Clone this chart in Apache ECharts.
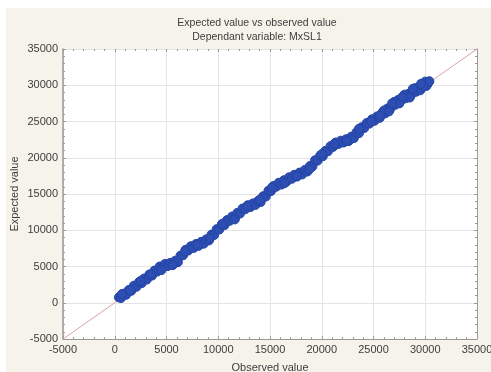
<!DOCTYPE html>
<html><head><meta charset="utf-8">
<script src="https://cdn.jsdelivr.net/npm/echarts@6/dist/echarts.min.js"></script>
<style>
html,body{margin:0;padding:0;background:#ffffff;}
#bg{position:absolute;left:6px;top:8px;width:485px;height:364px;background:#f6f3ea;}
#chart{position:absolute;left:0;top:0;width:491px;height:372px;}
</style></head>
<body><div id="bg"></div><div id="chart"></div>
<script>
const titleLines = ["Expected value vs observed value", "Dependant variable: MxSL1"];
const xAxisName = "Observed value";
const yAxisName = "Expected value";
const axisMin = -5000, axisMax = 35000, axisStep = 5000;
const refLine = [[-5000, -5000], [35000, 35000]];
const observed = [400,600,850,1100,1350,1600,1850,2100,2350,2600,2850,3100,3350,3600,3850,4100,4350,4600,4850,5100,5350,5600,5850,6100,6350,6600,6850,7100,7350,7600,7850,8100,8350,8600,8850,9100,9350,9600,9850,10100,10350,10600,10850,11100,11350,11600,11850,12100,12350,12600,12850,13100,13350,13600,13850,14100,14350,14600,14850,15100,15350,15600,15850,16100,16350,16600,16850,17100,17350,17600,17850,18100,18350,18600,18850,19100,19350,19600,19850,20100,20350,20600,20850,21100,21350,21600,21850,22100,22350,22600,22850,23100,23350,23600,23850,24100,24350,24600,24850,25100,25350,25600,25850,26100,26350,26600,26850,27100,27350,27600,27850,28100,28350,28600,28850,29100,29350,29600,29850,30100,30300,26000,26500,27000,27500,28000,28500,29000,29500,30000,30200,29800,30400,700,1500,2500,3500,4500,5600,6800,8000,9200,10400,11600,12800,14000,15200,16400,17600,18800,20000,21200,22400,23600,24800,25600,26800,27800,28800,29600];
const expected = [750,650,1250,1100,1750,1650,2350,2200,2850,2700,3350,3200,3900,3750,4450,4300,5000,4850,5350,5050,5500,5250,5800,5600,6500,6550,7300,7200,7800,7550,8100,7850,8400,8150,8750,8600,9400,9350,10150,10100,10800,10700,11400,11300,11900,11700,12400,12300,13000,12900,13450,13200,13700,13500,14050,13900,14700,14650,15450,15400,16100,16000,16550,16300,16900,16700,17300,17100,17650,17400,17950,17700,18300,18100,18850,18800,19650,19600,20300,20200,20950,20900,21600,21500,22100,21900,22350,22100,22550,22300,22900,22700,23500,23400,24200,24100,24800,24700,25300,25100,25700,25500,26200,26100,26800,26700,27400,27300,27950,27800,28400,28200,28800,28600,29250,29100,29700,29500,30100,29900,30400,26500,26400,27700,27500,28700,28300,29600,29300,30500,30100,29800,30550,1200,1700,3000,3900,4500,5200,7100,7900,8900,10900,11500,13300,14200,15900,16500,17500,18400,20500,21900,22300,24000,25000,25800,27500,28400,29500,30200];

const points = observed.map((o, i) => [o, expected[i]]);
const gridCol = '#e4e4e4', axisCol = '#9a9a9a', textCol = '#3d3d3d';
const fontFam = '"Liberation Sans", Arial, sans-serif';
const plain = v => String(v);

function mkX(pos, showLine, showLabel) {
  return {
    type: 'value', position: pos, min: axisMin, max: axisMax, interval: axisStep,
    axisLine: {show: showLine, onZero: false, lineStyle: {color: axisCol, width: 1}},
    axisTick: {show: true, inside: true, length: 3, lineStyle: {color: axisCol}},
    minorTick: {show: true, splitNumber: 5, length: 2, lineStyle: {color: axisCol}},
    splitLine: {show: showLabel, lineStyle: {color: gridCol, width: 1}},
    axisLabel: {show: showLabel, color: textCol, fontSize: 11, fontFamily: fontFam, margin: 5, formatter: plain},
    name: showLabel ? xAxisName : '', nameLocation: 'middle', nameGap: 23, nameMoveOverlap: false,
    nameTextStyle: {color: textCol, fontSize: 11, fontFamily: fontFam}
  };
}
function mkY(pos, showLine, showLabel) {
  return {
    type: 'value', position: pos, min: axisMin, max: axisMax, interval: axisStep,
    axisLine: {show: showLine, onZero: false, lineStyle: {color: axisCol, width: showLabel ? 1.5 : 1}},
    axisTick: {show: true, inside: true, length: 3, lineStyle: {color: axisCol}},
    minorTick: {show: true, splitNumber: 5, length: 2, lineStyle: {color: axisCol}},
    splitLine: {show: showLabel, lineStyle: {color: gridCol, width: 1}},
    axisLabel: {show: showLabel, color: textCol, fontSize: 11, fontFamily: fontFam, margin: 5, formatter: plain},
    name: showLabel ? yAxisName : '', nameLocation: 'middle', nameGap: 43, nameRotate: 90, nameMoveOverlap: false,
    nameTextStyle: {color: textCol, fontSize: 11, fontFamily: fontFam}
  };
}

const chart = echarts.init(document.getElementById('chart'), null, {renderer: 'canvas'});
chart.setOption({
  backgroundColor: 'transparent',
  animation: false,
  title: {
    text: titleLines.join('\n'), left: 252, top: 11, textAlign: 'center',
    textStyle: {color: textCol, fontSize: 10.5, fontWeight: 'normal', fontFamily: fontFam, lineHeight: 14}
  },
  grid: {left: 63, right: 14, top: 49, bottom: 33, show: true, backgroundColor: '#ffffff', borderWidth: 0,
         containLabel: false, outerBoundsMode: 'none'},
  xAxis: [mkX('bottom', true, true), mkX('top', false, false)],
  yAxis: [mkY('left', true, true), mkY('right', true, false)],
  series: [
    {type: 'line', data: refLine, symbol: 'none', lineStyle: {color: '#d9a3a3', width: 1}, z: 1},
    {type: 'scatter', data: points, symbol: 'circle', symbolSize: 9,
     itemStyle: {color: '#2d4fb3', borderColor: '#2444a6', borderWidth: 1, opacity: 1}, z: 2}
  ]
});
</script></body></html>
